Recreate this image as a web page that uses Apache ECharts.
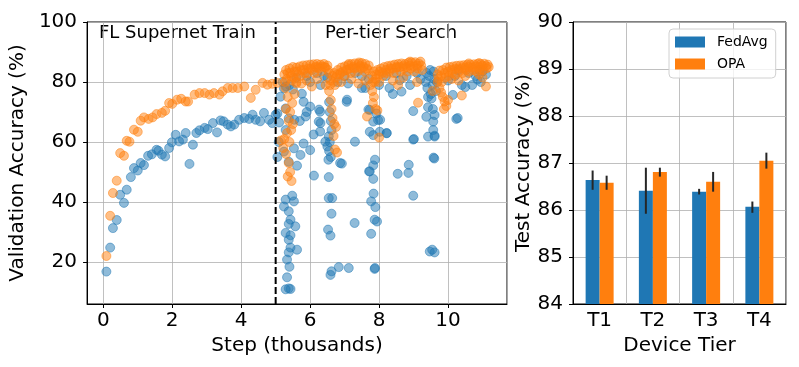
<!DOCTYPE html>
<html>
<head>
<meta charset="utf-8">
<script src="https://cdn.jsdelivr.net/npm/echarts@6/dist/echarts.min.js"></script>
<style>html,body{margin:0;padding:0;background:#fff}#main{width:799px;height:367px}</style>
</head>
<body>
<div id="main"></div>
<script>
// left panel: validation accuracy vs step (thousands)
var fedavgTrain = [
  [0.09,16.8],[0.2,24.8],[0.28,31.3],[0.39,34.0],[0.49,42.4],[0.6,39.7],[0.68,44.1],[0.8,48.3],
  [0.89,51.3],[1.0,50.5],[1.085,53.0],[1.18,52.3],[1.3,55.4],[1.41,55.9],[1.545,57.4],[1.6,57.1],
  [1.7,55.8],[1.795,55.2],[1.91,58.0],[1.99,59.9],[2.1,62.4],[2.2,60.2],[2.31,60.8],[2.39,63.0],
  [2.5,52.7],[2.6,59.1],[2.7,63.0],[2.79,63.9],[2.94,64.7],[3.03,64.3],[3.18,66.3],[3.3,63.2],
  [3.4,67.2],[3.49,66.9],[3.61,65.8],[3.7,65.2],[3.8,65.8],[3.94,67.4],[4.09,68.0],[4.23,67.7],
  [4.33,69.1],[4.42,67.4],[4.55,66.9],[4.66,69.7],[4.81,67.4],[4.9,66.3],[5.0,69.1]
];
var opaTrain = [
  [0.09,22.0],[0.2,35.4],[0.28,43.0],[0.39,47.1],[0.49,56.3],[0.6,55.4],[0.68,60.4],[0.76,60.1],
  [0.89,64.1],[1.0,63.4],[1.085,67.1],[1.18,68.2],[1.315,67.7],[1.43,68.2],[1.545,69.3],[1.7,69.7],
  [1.795,70.4],[1.91,73.0],[2.0,72.7],[2.14,74.1],[2.26,74.4],[2.39,73.5],[2.46,73.5],[2.65,75.8],
  [2.79,76.3],[2.94,76.3],[3.08,75.8],[3.21,76.3],[3.37,75.8],[3.46,76.9],[3.61,78.0],[3.75,78.0],
  [3.9,78.0],[4.09,78.5],[4.28,74.7],[4.42,77.4],[4.62,79.7],[4.76,79.1],[4.9,79.4],[5.05,79.7]
];
var fedavgSearch = [
  [5.05,55.0],[5.09,60.0],[5.1,66.5],[5.05,69.5],[5.14,75.1],[5.24,77.9],[5.2,80.0],[5.3,78.5],[5.4,79.0],[5.5,77.5],
  [5.29,71.2],[5.38,67.9],[5.29,64.0],[5.24,56.8],[5.38,53.4],[5.53,57.9],[5.72,55.7],[5.62,52.1],
  [5.29,40.8],[5.48,42.1],[5.53,40.2],[5.24,38.5],[5.38,36.9],[5.43,34.1],[5.38,32.7],[5.57,31.9],
  [5.29,29.7],[5.43,28.9],[5.38,27.4],[5.43,24.8],[5.38,23.2],[5.62,24.1],[5.33,20.8],[5.4,18.4],
  [5.33,14.9],[5.38,11.2],[5.29,10.9],[5.43,11.0],
  [5.54,67.4],[5.81,73.4],[5.76,76.1],[5.87,68.5],[6.0,71.8],[5.9,70.0],[5.7,67.0],[6.1,62.5],
  [5.81,59.5],[6.0,57.3],[6.29,70.1],[6.25,66.8],[6.29,63.5],[6.26,70.8],[6.3,66.3],[6.44,60.1],
  [6.55,73.3],[6.57,70.0],[6.6,67.0],[6.62,64.0],[6.57,60.0],[6.55,57.0],[6.6,55.0],[6.54,61.9],[6.5,58.5],
  [6.53,54.1],[6.87,53.0],[6.92,52.8],[6.11,48.8],[6.54,48.3],[6.54,41.3],[6.64,41.3],[6.62,36.1],
  [6.52,30.8],[6.59,28.8],[7.29,33.0],[6.83,18.3],[7.12,18.0],[6.62,16.9],[6.59,15.7],
  [7.06,73.4],[7.07,74.1],[7.3,60.1],[7.5,78.0],[7.73,70.7],[7.92,69.5],[7.97,67.3],[7.83,66.8],
  [7.73,63.4],[7.83,62.3],[8.02,63.4],[7.69,70.8],[8.03,67.4],[8.22,63.0],
  [7.88,54.1],[7.83,52.2],[7.73,50.2],[7.83,47.7],[7.71,50.2],[7.84,42.8],[7.77,40.2],[7.89,38.3],
  [7.87,34.1],[7.94,33.5],[7.77,29.4],[7.87,17.7],[7.88,18.0],
  [8.54,49.4],[8.86,52.4],[8.85,49.7],[8.99,42.1],[8.99,70.3],[8.22,62.9],[9.01,61.0],[8.99,60.8],
  [9.37,68.4],[9.61,69.0],[9.57,66.8],[9.42,71.6],[9.56,71.0],[9.57,64.0],[9.61,61.8],[9.42,61.8],
  [9.61,62.1],[9.58,54.8],[9.6,54.5],[9.47,23.5],[9.54,24.1],[9.61,23.2],[10.24,67.7],[10.28,68.0],
  [9.35,80.0],[9.4,78.0],[9.45,82.0],[9.5,76.0],[9.55,79.0],[9.6,81.0],[9.42,75.0],[9.52,74.5],[9.65,77.0],
  [9.38,83.0],[9.48,84.0],[9.58,83.5],[9.68,80.0],
  [10.14,75.7],[10.5,78.3],[10.7,79.0],[10.85,80.8],[10.95,80.0],[8.6,80.6],[8.65,76.8],[8.3,78.0],[8.4,76.0],
  [5.6,81.5],[5.9,82.0],[6.0,80.0],[6.2,83.0],[6.4,82.0],[6.3,79.0],[6.5,81.5],[6.8,80.0],[7.0,82.0],
  [7.1,79.5],[7.3,83.0],[7.5,82.0],[7.6,78.0],[7.7,81.0],[8.0,79.0],[8.2,82.0],[8.5,83.0],[8.8,82.0],
  [8.9,79.0],[9.1,83.0],[9.2,81.0],[10.0,80.5],[10.2,82.0],[10.4,79.0],[10.6,83.0],[10.8,82.0],
  [11.0,83.5],[11.1,82.5],[10.9,84.0],[10.3,84.0]
];
var opaSearch = [
  [5.15,60.5],[5.22,58.0],[5.3,56.0],[5.38,53.0],[5.42,50.0],[5.46,47.0],[5.35,48.5],[5.25,61.0],
  [5.4,60.0],[5.33,63.0],[5.45,64.0],[5.38,67.0],[5.5,66.0],[5.42,70.0],[5.3,71.0],[5.48,73.0],
  [5.35,75.0],[5.55,76.0],[5.28,78.0],[5.6,79.5],
  [5.25,82.5],[5.3,84.0],[5.35,83.0],[5.4,84.5],[5.45,82.0],[5.5,85.0],[5.55,83.5],[5.6,84.8],
  [5.65,82.5],[5.7,85.2],[5.75,84.0],[5.8,85.5],[5.85,83.0],[5.9,85.6],[5.95,84.5],[6.0,85.8],
  [6.05,84.0],[6.1,85.9],[6.15,85.0],[6.2,86.0],[6.25,84.5],[6.3,85.8],[6.35,85.2],[6.4,86.0],
  [6.45,84.8],[6.5,85.5],[6.55,83.0],[5.6,80.0],[5.9,80.5],[6.2,81.0],[6.45,79.0],[6.05,78.5],[5.75,79.5],
  [5.32,81.0],[5.42,83.0],[5.52,81.5],[5.62,83.5],[5.72,82.0],[5.82,84.0],[5.92,83.0],[6.02,84.5],
  [6.12,83.0],[6.22,85.0],[6.32,83.5],[6.42,85.0],[6.52,84.0],[5.27,80.0],[5.47,80.5],
  [6.55,77.0],[6.6,74.0],[6.62,71.0],[6.65,68.0],[6.7,66.0],[6.75,65.0],[6.68,62.0],[6.72,57.5],
  [6.78,56.5],[6.58,79.0],
  [6.6,80.5],[6.65,82.0],[6.7,83.0],[6.75,81.5],[6.8,84.0],[6.85,82.5],[6.9,84.8],[6.95,83.5],
  [7.0,85.2],[7.05,84.0],[7.1,85.6],[7.15,84.5],[7.2,86.0],[7.25,85.0],[7.3,86.2],[7.35,84.8],
  [7.4,86.0],[7.45,85.3],[7.5,86.3],[7.55,85.0],[7.6,86.0],[7.65,84.5],[7.7,85.5],
  [6.9,80.0],[7.2,81.0],[7.6,80.5],[7.4,79.5],
  [6.68,80.0],[6.78,82.5],[6.88,83.0],[6.98,82.0],[7.08,84.0],[7.18,83.0],[7.28,84.5],[7.38,83.5],
  [7.48,84.5],[7.58,83.5],[7.68,84.0],[7.12,86.0],[7.42,86.5],[6.72,79.0],
  [7.75,79.0],[7.8,77.0],[7.85,75.0],[7.82,73.0],[7.9,71.0],[7.95,70.5],[7.65,68.5],[8.0,61.5],[7.88,80.0],
  [7.8,82.0],[7.85,83.5],[7.9,81.0],[7.95,84.0],[8.0,82.5],[8.05,84.5],[8.1,83.0],[8.15,85.0],
  [8.2,84.0],[8.25,85.3],[8.3,83.5],[8.35,85.5],[8.4,84.5],[8.45,85.8],[8.5,84.8],[8.55,86.0],
  [8.6,85.0],[8.65,86.2],[8.7,85.3],[8.75,86.0],[8.8,85.0],[8.85,86.4],[8.9,85.5],[8.95,86.5],
  [9.0,85.2],[9.05,86.6],[9.1,85.5],[9.15,86.2],[8.0,80.0],[8.4,80.5],[8.7,81.5],[9.1,80.0],
  [8.55,79.0],[9.13,73.1],
  [7.82,80.0],[7.92,82.5],[8.02,83.5],[8.12,82.0],[8.22,83.0],[8.32,84.5],[8.42,83.0],[8.52,85.0],
  [8.62,83.5],[8.72,84.5],[8.82,83.5],[8.92,84.5],[9.02,83.5],[9.12,84.5],[9.22,85.5],[9.25,84.0],
  [8.9,86.8],[9.2,86.8],
  [9.7,80.0],[9.75,78.0],[9.8,76.5],[9.85,75.0],[9.9,73.5],[9.95,72.0],[9.88,71.0],[10.0,74.0],
  [10.4,75.5],[11.1,78.5],[9.55,77.0],
  [9.7,82.5],[9.75,83.8],[9.8,82.0],[9.85,84.0],[9.9,83.0],[9.95,84.8],[10.0,83.5],[10.05,85.0],
  [10.1,84.0],[10.15,85.2],[10.2,84.3],[10.25,85.4],[10.3,84.5],[10.35,85.5],[10.4,84.6],[10.45,85.6],
  [10.5,84.8],[10.55,85.7],[10.6,85.0],[10.65,85.8],[10.7,84.8],[10.75,85.9],[10.8,85.2],[10.85,86.0],
  [10.9,85.0],[10.95,86.0],[11.0,85.4],[11.05,86.1],[11.1,85.3],[11.15,85.8],
  [10.1,81.0],[10.5,82.0],[10.9,82.5],[11.0,81.5],[10.3,80.5],
  [9.72,81.0],[9.82,80.0],[9.92,81.5],[10.02,82.0],[10.12,83.0],[10.22,82.5],[10.32,83.5],[10.42,83.0],
  [10.52,84.0],[10.62,83.5],[10.72,84.0],[10.82,83.5],[10.92,84.0],[11.02,84.0],[11.12,84.5],[11.18,85.0],
  [10.6,86.2],[10.9,86.3]
];
var phaseSplit = 5;

// right panel: test accuracy per device tier
var tiers = ['T1', 'T2', 'T3', 'T4'];
var fedavgAcc = [86.64, 86.41, 86.39, 86.07];
var fedavgLow = [86.43, 85.92, 86.33, 85.94];
var fedavgHigh = [86.84, 86.90, 86.45, 86.18];
var opaAcc = [86.58, 86.81, 86.60, 87.05];
var opaLow = [86.43, 86.71, 86.39, 86.88];
var opaHigh = [86.73, 86.90, 86.81, 87.22];

var BLUE = '#1f77b4', ORANGE = '#ff7f0e';
var FONT = 'DejaVu Sans';

function errData(lo, hi) {
  return lo.map(function (v, i) { return [i, v, hi[i]]; });
}
function errRender(offset) {
  return function (params, api) {
    var a = api.coord([api.value(0), api.value(1)]);
    var b = api.coord([api.value(0), api.value(2)]);
    return {
      type: 'line',
      shape: {x1: a[0] + offset, y1: a[1], x2: b[0] + offset, y2: b[1]},
      style: {stroke: '#262626', lineWidth: 2}
    };
  };
}

var axisText = {color: '#000', fontSize: 20, fontFamily: FONT};
var gridLine = {show: true, lineStyle: {color: '#b0b0b0', width: 0.8}};

var option = {
  animation: false,
  textStyle: {fontFamily: FONT},
  grid: [
    {left: 83, top: 22, width: 424, height: 282, show: true, borderColor: '#000', borderWidth: 1},
    {left: 573, top: 22, width: 213, height: 282, show: true, borderColor: '#000', borderWidth: 1}
  ],
  legend: {
    data: ['FedAvg', 'OPA'],
    orient: 'vertical',
    left: 669, top: 29,
    icon: 'rect',
    itemWidth: 30, itemHeight: 11, itemGap: 6,
    padding: [5, 8, 6, 6],
    borderColor: '#d0d0d0', borderWidth: 1, borderRadius: 4,
    backgroundColor: 'rgba(255,255,255,0.8)',
    textStyle: {fontSize: 14, fontFamily: FONT, color: '#000', lineHeight: 16, padding: [0, 0, 0, 7]}
  },
  xAxis: [
    {
      type: 'value', gridIndex: 0, min: -0.47, max: 11.71,
      name: 'Step (thousands)', nameLocation: 'middle', nameGap: 27, nameTextStyle: axisText,
      axisLine: {onZero: false, lineStyle: {color: '#000'}},
      axisTick: {length: 4, lineStyle: {color: '#000'}},
      axisLabel: {color: '#000', fontSize: 20, fontFamily: FONT, margin: 7, showMinLabel: false, showMaxLabel: false,
        formatter: function (v) { return (Math.abs(v % 2) < 1e-6) ? String(v) : ''; }},
      splitLine: gridLine
    },
    {
      type: 'category', gridIndex: 1, data: tiers,
      name: 'Device Tier', nameLocation: 'middle', nameGap: 26, nameTextStyle: axisText,
      axisLine: {onZero: false, lineStyle: {color: '#000'}},
      axisTick: {length: 4, alignWithLabel: true, lineStyle: {color: '#000'}},
      axisLabel: {color: '#000', fontSize: 20, fontFamily: FONT, margin: 7},
      splitLine: gridLine
    }
  ],
  yAxis: [
    {
      type: 'value', gridIndex: 0, min: 6, max: 100,
      name: 'Validation Accuracy (%)', nameLocation: 'middle', nameGap: 47, nameTextStyle: axisText,
      axisLine: {show: true, onZero: false, lineStyle: {color: '#000'}},
      axisTick: {show: true, length: 4, lineStyle: {color: '#000'}},
      axisLabel: {color: '#000', fontSize: 20, fontFamily: FONT, margin: 10, showMinLabel: false,
        formatter: function (v) { return (v % 20 === 0) ? String(v) : ''; }},
      splitLine: gridLine
    },
    {
      type: 'value', gridIndex: 1, min: 84, max: 90, interval: 1,
      name: 'Test Accuracy (%)', nameLocation: 'middle', nameGap: 37, nameTextStyle: axisText,
      axisLine: {show: true, onZero: false, lineStyle: {color: '#000'}},
      axisTick: {show: true, length: 4, lineStyle: {color: '#000'}},
      axisLabel: {color: '#000', fontSize: 20, fontFamily: FONT, margin: 10},
      splitLine: gridLine
    }
  ],
  graphic: [
    {type: 'text', left: 99, top: 24, style: {text: 'FL Supernet Train', font: '18px "DejaVu Sans"', fill: '#000'}},
    {type: 'text', left: 325, top: 24, style: {text: 'Per-tier Search', font: '18px "DejaVu Sans"', fill: '#000'}}
  ],
  series: [
    {
      name: 'FedAvg-val', type: 'scatter', xAxisIndex: 0, yAxisIndex: 0,
      data: fedavgTrain.concat(fedavgSearch), symbolSize: 9,
      itemStyle: {color: BLUE, borderColor: BLUE, borderWidth: 1, opacity: 0.5}
    },
    {
      name: 'OPA-val', type: 'scatter', xAxisIndex: 0, yAxisIndex: 0,
      data: opaTrain.concat(opaSearch), symbolSize: 9,
      itemStyle: {color: ORANGE, borderColor: ORANGE, borderWidth: 1, opacity: 0.5}
    },
    {
      type: 'line', xAxisIndex: 0, yAxisIndex: 0, silent: true, symbol: 'none', z: 5,
      data: [[phaseSplit, 6], [phaseSplit, 100]],
      lineStyle: {color: '#000', width: 2, type: [7, 3]}
    },
    {
      name: 'FedAvg', type: 'bar', xAxisIndex: 1, yAxisIndex: 1,
      data: fedavgAcc, barWidth: 14, barGap: '0%', itemStyle: {color: BLUE}
    },
    {
      name: 'OPA', type: 'bar', xAxisIndex: 1, yAxisIndex: 1,
      data: opaAcc, barWidth: 14, barGap: '0%', itemStyle: {color: ORANGE}
    },
    {
      type: 'custom', xAxisIndex: 1, yAxisIndex: 1, z: 5, silent: true,
      data: errData(fedavgLow, fedavgHigh), renderItem: errRender(-7),
      encode: {x: 0, y: [1, 2]}
    },
    {
      type: 'custom', xAxisIndex: 1, yAxisIndex: 1, z: 5, silent: true,
      data: errData(opaLow, opaHigh), renderItem: errRender(7),
      encode: {x: 0, y: [1, 2]}
    }
  ]
};

var chart = echarts.init(document.getElementById('main'));
chart.setOption(option);
</script>
</body>
</html>
